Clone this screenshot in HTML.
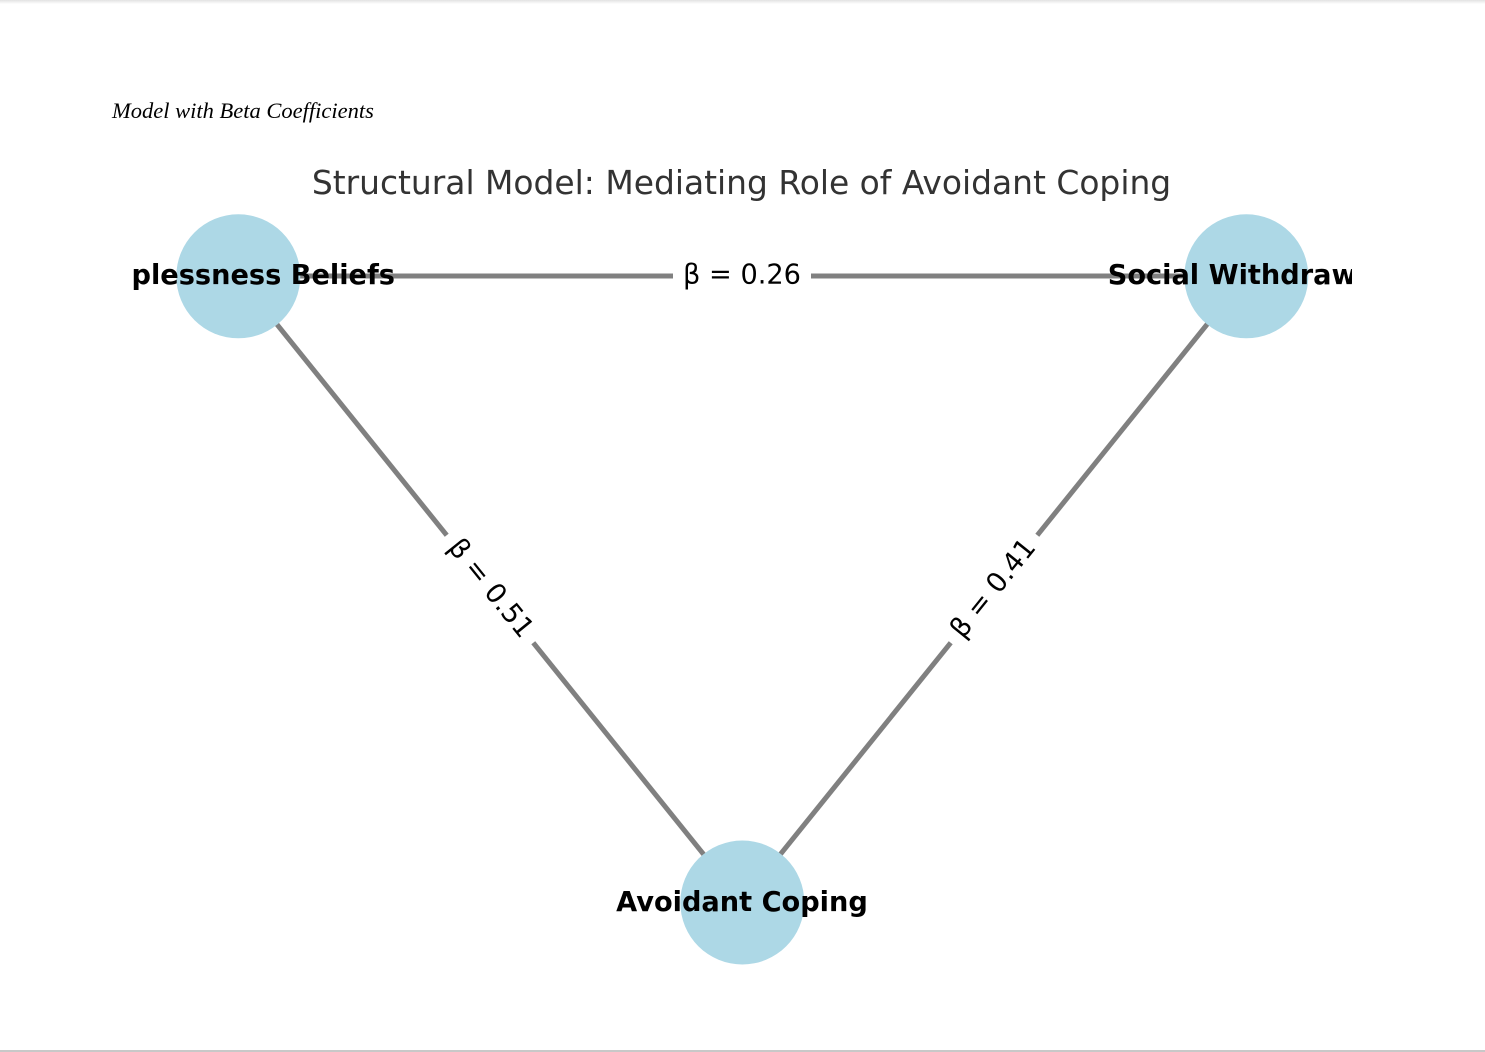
<!DOCTYPE html>
<html>
<head>
<meta charset="utf-8">
<style>
  html, body { margin: 0; padding: 0; background: #ffffff; }
  body { width: 1485px; height: 1052px; overflow: hidden; position: relative; }
  .topshadow { position: absolute; left: 0; top: 0; width: 1485px; height: 4px;
    background: linear-gradient(#e2e2e2, #ffffff); }
  .bottomline { position: absolute; left: 0; top: 1050px; width: 1485px; height: 2px; background: #c8c8c8; }
  svg { position: absolute; left: 0; top: 0; }
</style>
</head>
<body>
<div class="topshadow"></div>
<div class="bottomline"></div>
<svg width="1485" height="1052" viewBox="0 0 1485 1052" xmlns="http://www.w3.org/2000/svg">
  <defs>
    <clipPath id="ax">
      <rect x="131" y="200" width="1221" height="820"/>
    </clipPath>
  </defs>

  <text x="112" y="118" font-family="'Liberation Serif', serif" font-style="italic" font-size="22.5" fill="#000">Model with Beta Coefficients</text>

  <text x="741.5" y="194" text-anchor="middle" font-family="'DejaVu Sans', 'Liberation Sans', sans-serif" font-size="32.9" fill="#333333">Structural Model: Mediating Role of Avoidant Coping</text>

  <g clip-path="url(#ax)">
    <!-- edges -->
    <g stroke="#808080" stroke-width="5" fill="none">
      <line x1="238" y1="276" x2="1246" y2="276"/>
      <line x1="238" y1="276" x2="742" y2="902"/>
      <line x1="1246" y1="276" x2="742" y2="902"/>
    </g>

    <!-- nodes -->
    <g fill="#add8e6">
      <circle cx="238.3" cy="276.3" r="62"/>
      <circle cx="1246.3" cy="276.3" r="62"/>
      <circle cx="742.3" cy="902.5" r="62"/>
    </g>

    <!-- edge labels -->
    <g font-family="'DejaVu Sans', 'Liberation Sans', sans-serif" font-size="27.2" fill="#000" text-anchor="middle">
      <g transform="translate(742,276)">
        <rect x="-69" y="-20" width="138" height="40" fill="#fff"/>
        <text x="0" y="7.5">β = 0.26</text>
      </g>
      <g transform="translate(490,589) rotate(51.16)">
        <rect x="-69" y="-20" width="138" height="40" fill="#fff"/>
        <text x="0" y="7.5">β = 0.51</text>
      </g>
      <g transform="translate(994,589) rotate(-51.16)">
        <rect x="-69" y="-20" width="138" height="40" fill="#fff"/>
        <text x="0" y="7.5">β = 0.41</text>
      </g>
    </g>

    <!-- node labels -->
    <g font-family="'DejaVu Sans', 'Liberation Sans', sans-serif" font-size="27.2" font-weight="bold" fill="#000" text-anchor="middle">
      <text x="238" y="284">Helplessness Beliefs</text>
      <text x="1246" y="284">Social Withdrawal</text>
      <text x="742" y="911">Avoidant Coping</text>
    </g>
  </g>
</svg>
</body>
</html>
